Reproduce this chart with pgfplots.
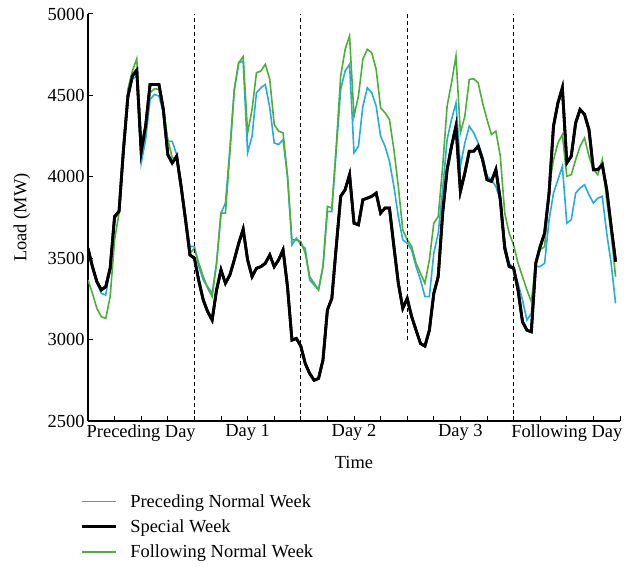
\documentclass[border=0pt]{standalone}
\usepackage{fontspec}
\setmainfont{Liberation Serif}
\usepackage{pgfplots}
\usepackage{pgfplotstable}
\pgfplotsset{compat=1.18}
\definecolor{prevblue}{RGB}{38,170,226}
\definecolor{follgreen}{RGB}{76,175,56}
\newcommand{\chartfont}{\fontsize{18.5}{22}\selectfont}

% hourly load, h = hour index over the five days
\pgfplotstableread{
h P S F
0 3540 3561 3366
1 3440 3448 3284
2 3350 3356 3192
3 3284 3305 3141
4 3274 3325 3130
5 3440 3438 3264
6 3740 3756 3613
7 3780 3787 3777
8 4150 4167 4188
9 4470 4495 4537
10 4600 4619 4650
11 4619 4656 4725
12 4085 4157 4188
13 4229 4311 4270
14 4475 4567 4516
15 4506 4567 4541
16 4496 4567 4537
17 4393 4413 4413
18 4218 4136 4229
19 4218 4085 4116
20 4136 4126 4116
21 3961 3941 3941
22 3756 3736 3756
23 3572 3520 3531
24 3572 3500 3561
25 3449 3360 3469
26 3366 3243 3387
27 3325 3171 3315
28 3284 3120 3264
29 3469 3305 3469
30 3777 3428 3777
31 3839 3346 3777
32 4167 3397 4147
33 4537 3490 4537
34 4701 3592 4701
35 4711 3678 4738
36 4147 3490 4270
37 4249 3387 4413
38 4516 3438 4639
39 4547 3448 4650
40 4567 3469 4691
41 4424 3520 4598
42 4208 3448 4321
43 4198 3490 4280
44 4229 3551 4270
45 4003 3325 4003
46 3582 2997 3613
47 3623 3007 3613
48 3582 2960 3602
49 3561 2853 3531
50 3366 2792 3387
51 3336 2750 3346
52 3305 2761 3305
53 3449 2874 3449
54 3787 3182 3818
55 3787 3253 3808
56 4167 3572 4188
57 4537 3880 4619
58 4650 3921 4783
59 4691 4013 4865
60 4147 3715 4372
61 4188 3705 4496
62 4434 3859 4722
63 4547 3869 4783
64 4516 3880 4762
65 4434 3900 4660
66 4249 3777 4424
67 4188 3808 4393
68 4095 3808 4352
69 3941 3572 4167
70 3756 3346 3941
71 3613 3192 3674
72 3593 3253 3613
73 3551 3141 3572
74 3449 3058 3469
75 3366 2976 3407
76 3264 2960 3346
77 3264 3058 3490
78 3531 3284 3715
79 3654 3387 3756
80 3921 3777 4064
81 4229 4044 4434
82 4352 4188 4578
83 4454 4311 4742
84 4064 3910 4270
85 4208 4023 4372
86 4311 4157 4598
87 4270 4157 4602
88 4208 4188 4578
89 4126 4105 4454
90 4003 3982 4352
91 3982 3972 4260
92 3941 4044 4280
93 3859 3859 4126
94 3593 3561 3777
95 3469 3449 3654
96 3438 3440 3582
97 3346 3305 3469
98 3243 3110 3387
99 3120 3058 3305
100 3161 3048 3233
101 3449 3469 3469
102 3449 3572 3551
103 3469 3654 3572
104 3736 3900 3941
105 3900 4311 4105
106 3982 4454 4208
107 4064 4547 4260
108 3715 4085 4003
109 3736 4126 4013
110 3900 4331 4105
111 3931 4413 4188
112 3951 4383 4239
113 3890 4290 4126
114 3839 4044 4044
115 3869 4044 4013
116 3880 4075 4105
117 3654 3921 3859
118 3469 3695 3654
119 3223 3479 3387
}\loadtable

\begin{document}
\begin{tikzpicture}
\useasboundingbox (-88bp,-146bp) rectangle (546bp,421bp);
\begin{axis}[
  at={(0,0)}, anchor=south west,
  scale only axis, width=532bp, height=407bp,
  xmin=0, xmax=120, ymin=2500, ymax=5000,
  axis x line=bottom, axis y line=left,
  axis line style={-, line width=1.1bp},
  tick align=inside,
  major tick length=5bp,
  tick style={line width=1bp, black},
  xtick={0,6,...,120}, xticklabels={},
  extra x ticks={12,36,60,84,108},
  extra x tick labels={Preceding Day, Day 1, Day 2, Day 3, Following Day},
  extra x tick style={major tick length=0pt},
  ytick={2500,3000,...,5000},
  /pgf/number format/assume math mode=true,
  yticklabel style={/pgf/number format/1000 sep={}},
  tick label style={font=\chartfont},
  label style={font=\chartfont},
  xlabel={Time},
  ylabel={Load (MW)},
  xlabel style={at={(axis description cs:0.5,-0.103)}, anchor=center},
  ylabel style={at={(axis description cs:-0.124,0.5)}, anchor=center},
  legend style={at={(axis description cs:-0.02,-0.17)}, anchor=north west,
    draw=none, fill=none, font=\chartfont, row sep=7bp},
  legend cell align=left,
  legend image code/.code={\draw[#1] (0bp,0bp) -- (34bp,0bp); \path (45bp,0bp);},
]
\addplot[prevblue, line width=1.6bp] table[x=h, y=P] {\loadtable};
\addlegendentry{Preceding Normal Week}
\addplot[black, line width=2.8bp] table[x=h, y=S] {\loadtable};
\addlegendentry{Special Week}
\addplot[follgreen, line width=1.6bp] table[x=h, y=F] {\loadtable};
\addlegendentry{Following Normal Week}
\addplot[black, line width=2.8bp, forget plot] table[x=h, y=S] {\loadtable};
% day boundaries
\addplot[black, line width=1bp, dash pattern=on 4bp off 3bp, forget plot] coordinates {(24,2500) (24,5000)};
\addplot[black, line width=1bp, dash pattern=on 4bp off 3bp, forget plot] coordinates {(48,2500) (48,5000)};
\addplot[black, line width=1bp, dash pattern=on 4bp off 3bp, forget plot] coordinates {(72,3000) (72,5000)};
\addplot[black, line width=1bp, dash pattern=on 4bp off 3bp, forget plot] coordinates {(96,2500) (96,5000)};
\end{axis}
\end{tikzpicture}
\end{document}
